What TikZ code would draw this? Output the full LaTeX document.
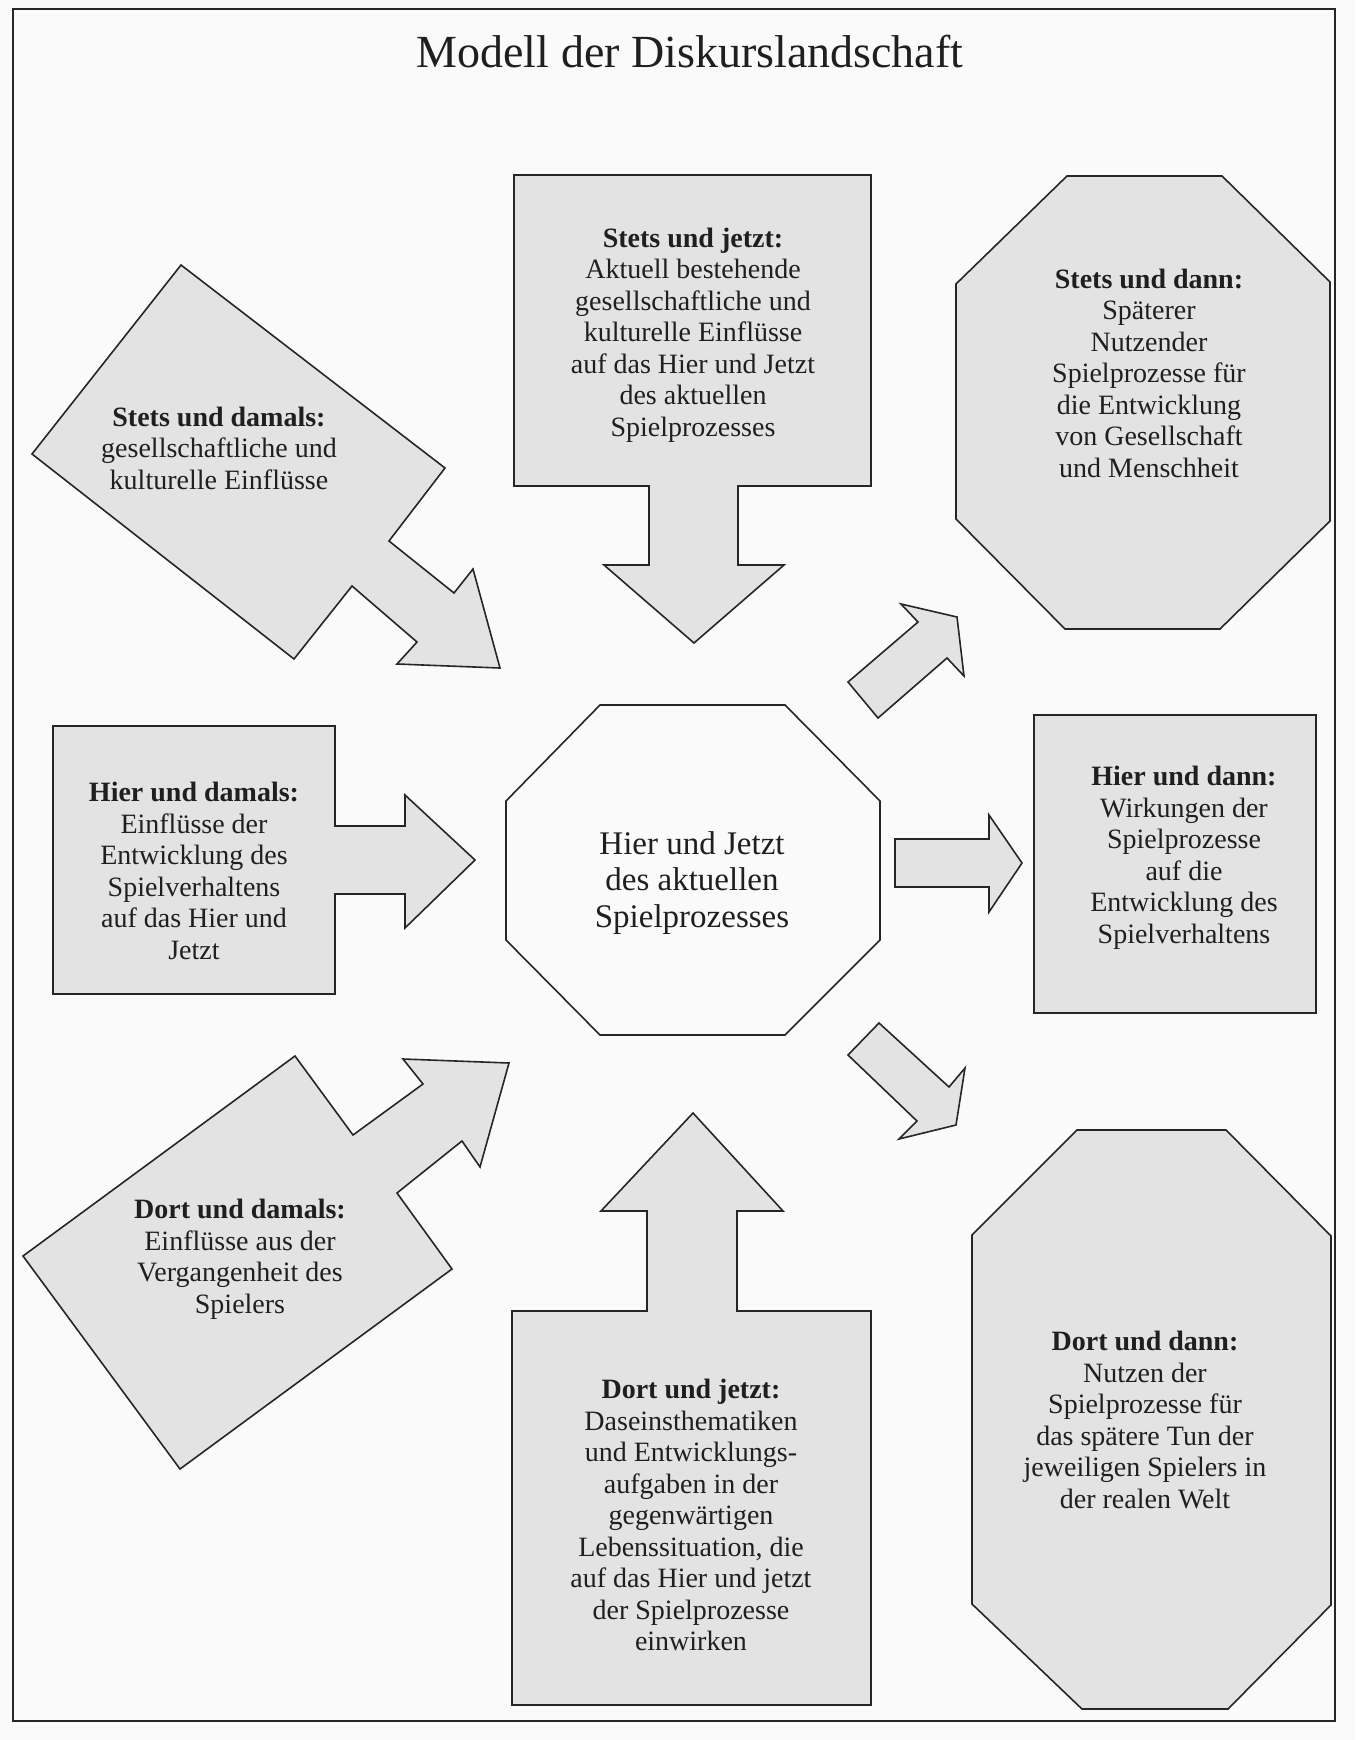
\documentclass[tikz,border=0pt]{standalone}
\usepackage{fontspec}
\setmainfont{Liberation Serif}
\begin{document}
\begin{tikzpicture}[x=1pt,y=-1pt]
\tikzset{
  shp/.style={draw=black!85, fill=black!11, line width=1.6pt, line join=miter},
  hub/.style={draw=black!85, fill=white!98!black, line width=1.6pt},
  framebox/.style={draw=black!85, line width=1.6pt},
  lbl/.style={align=center, inner sep=0pt, text=black!88, font=\fontsize{28}{31.5}\selectfont},
  hublbl/.style={align=center, inner sep=0pt, text=black!88, font=\fontsize{33}{36.6}\selectfont},
  ttl/.style={inner sep=0pt, text=black!88, font=\fontsize{46}{50}\selectfont}
}
\fill[white!98!black] (0,0) rectangle (1355,1740);
\useasboundingbox (0,0) rectangle (1355,1740);
\draw[framebox] (13,9) rectangle (1335,1721);

\node[ttl, anchor=base] (title) at (690,67) {Modell der Diskurslandschaft};

% Stets und damals
\draw[shp] (181,265) -- (445,468) -- (389,541) -- (454,593) -- (473,569) -- (500,668)
  -- (397,664) -- (417,642) -- (352,586) -- (294,659) -- (32,454) -- cycle;
\node[lbl] (sd) at (219,448) {\textbf{Stets und damals:}\\gesellschaftliche und\\kulturelle Einflüsse};

% Stets und jetzt
\draw[shp] (514,175) -- (871,175) -- (871,486) -- (738,486) -- (738,565) -- (784,565)
  -- (694,643) -- (604,565) -- (649,565) -- (649,486) -- (514,486) -- cycle;
\node[lbl] (sj) at (693,335) {\textbf{Stets und jetzt:}\\Aktuell bestehende\\gesellschaftliche und\\kulturelle Einflüsse\\auf das Hier und Jetzt\\des aktuellen\\Spielprozesses};

% Stets und dann
\draw[shp] (1067,176) -- (1222,176) -- (1330,282) -- (1330,521) -- (1220,629)
  -- (1065,629) -- (956,519) -- (956,284) -- cycle;
\node[lbl] (sn) at (1149,373) {\textbf{Stets und dann:}\\Späterer\\Nutzender\\Spielprozesse für\\die Entwicklung\\von Gesellschaft\\und Menschheit};

% arrow to Stets und dann
\draw[shp] (848,682) -- (918,622) -- (901,604) -- (957,617) -- (964,676) -- (947,658) -- (878,718) -- cycle;

% Hier und damals
\draw[shp] (53,726) -- (335,726) -- (335,826) -- (405,826) -- (405,795) -- (475,860)
  -- (405,928) -- (405,894) -- (335,894) -- (335,994) -- (53,994) -- cycle;
\node[lbl] (hd) at (194,871) {\textbf{Hier und damals:}\\Einflüsse der\\Entwicklung des\\Spielverhaltens\\auf das Hier und\\Jetzt};

% centre
\draw[hub] (600,705) -- (785,705) -- (880,801) -- (880,940) -- (785,1035) -- (600,1035)
  -- (506,940) -- (506,801) -- cycle;
\node[hublbl] (hj) at (692,883) {Hier und Jetzt\\des aktuellen\\Spielprozesses};

% arrow to Hier und dann
\draw[shp] (895,839) -- (989,839) -- (989,815) -- (1022,863) -- (989,912) -- (989,887) -- (895,887) -- cycle;

% Hier und dann
\draw[shp] (1034,715) rectangle (1316,1013);
\node[lbl] (hn) at (1184,858) {\textbf{Hier und dann:}\\Wirkungen der\\Spielprozesse\\auf die\\Entwicklung des\\Spielverhaltens};

% arrow to Dort und dann
\draw[shp] (879,1023) -- (949,1087) -- (965,1068) -- (956,1125) -- (899,1139) -- (917,1121) -- (848,1055) -- cycle;

% Dort und damals
\draw[shp] (295,1056) -- (353,1135) -- (423,1084) -- (403,1059) -- (509,1063) -- (480,1167)
  -- (462,1141) -- (397,1193) -- (452,1269) -- (180,1469) -- (23,1256) -- cycle;
\node[lbl] (dd) at (240,1259) {\textbf{Dort und damals:}\\Einflüsse aus der\\Vergangenheit des\\Spielers};

% Dort und jetzt
\draw[shp] (693,1113) -- (783,1211) -- (737,1211) -- (737,1311) -- (871,1311) -- (871,1705)
  -- (512,1705) -- (512,1311) -- (647,1311) -- (647,1211) -- (601,1211) -- cycle;
\node[lbl] (dj) at (691,1515) {\textbf{Dort und jetzt:}\\Daseinsthematiken\\und Entwicklungs-\\aufgaben in der\\gegenwärtigen\\Lebenssituation, die\\auf das Hier und jetzt\\der Spielprozesse\\einwirken};

% Dort und dann
\draw[shp] (1077,1130) -- (1226,1130) -- (1331,1236) -- (1331,1605) -- (1228,1709)
  -- (1082,1709) -- (972,1604) -- (972,1235) -- cycle;
\node[lbl] (dn) at (1145,1420) {\textbf{Dort und dann:}\\Nutzen der\\Spielprozesse für\\das spätere Tun der\\jeweiligen Spielers in\\der realen Welt};
\end{tikzpicture}
\end{document}
